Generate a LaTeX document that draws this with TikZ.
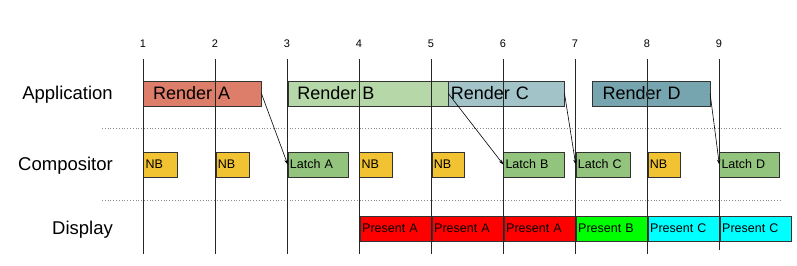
\documentclass[tikz,border=0pt]{standalone}
\usepackage{fontspec}
\setmainfont{Liberation Sans}
\usepackage{tikz}
\usetikzlibrary{arrows.meta}

\definecolor{redberry}{HTML}{DD7E6B}
\definecolor{lightgreen}{HTML}{B6D7A8}
\definecolor{lightcyan}{HTML}{A2C4C9}
\definecolor{darkcyan}{HTML}{76A5AF}
\definecolor{nbyellow}{HTML}{F1C232}
\definecolor{latchgreen}{HTML}{93C47D}
\definecolor{presentred}{HTML}{FF0000}
\definecolor{presentgreen}{HTML}{00FF00}
\definecolor{presentcyan}{HTML}{00FFFF}

\begin{document}
\begin{tikzpicture}[x=1pt, y=-1pt]
        % Styles for the three rows
        \tikzstyle{rowlabel} = [anchor=east, inner sep=0pt, font=\fontsize{18.5}{20}\selectfont]
        \tikzstyle{render} = [rectangle, draw=black!80, anchor=west, minimum height=25pt, inner ysep=0pt,
                              inner xsep=10pt, align=left, font=\fontsize{18}{20}\selectfont]
        \tikzstyle{comp} = [rectangle, draw=black!80, anchor=west, minimum height=24.5pt, inner ysep=0pt,
                            inner xsep=2pt, align=left, font=\fontsize{12.5}{14}\selectfont]
        \tikzstyle{present} = [rectangle, draw=black!80, anchor=west, minimum height=25pt, inner ysep=0pt,
                               inner xsep=2.5pt, text width=67pt, align=left, font=\fontsize{12.5}{14}\selectfont]
        \tikzstyle{arrow} = [black, line width=0.6pt, -{Stealth[length=5pt, width=3.5pt]}]
        \tikzstyle{vsync} = [black!85, line width=0.9pt]
        \tikzstyle{sep} = [black!45, dotted, line width=0.8pt]

        \useasboundingbox (0,0) rectangle (797,265);

        % Row labels
        \node (application) [rowlabel] at (113,95) {Application};
        \node (compositor) [rowlabel] at (113,166) {Compositor};
        \node (display) [rowlabel] at (113,230) {Display};

        % Separators
        \draw [sep] (102,128.3) -- (780,128.3);
        \draw [sep] (102,200.7) -- (780,200.7);

        % Application row
        \node (renderA) [render, fill=redberry, text width=98pt] at (143,93.5) {Render A};
        \node (renderB) [render, fill=lightgreen, text width=141pt, inner xsep=9.7pt] at (287.5,93.5) {Render B};
        \node (renderC) [render, fill=lightcyan, text width=111pt, inner xsep=2.4pt] at (448.3,93.5) {Render C};
        \node (renderD) [render, fill=darkcyan, text width=97.4pt] at (592.3,93.5) {Render D};

        % Compositor row
        \node (nb1) [comp, fill=nbyellow, text width=29.5pt] at (143.3,164.5) {NB};
        \node (nb2) [comp, fill=nbyellow, text width=29pt] at (215.7,164.5) {NB};
        \node (latchA) [comp, fill=latchgreen, text width=56pt] at (287.7,164.5) {Latch A};
        \node (nb4) [comp, fill=nbyellow, text width=28.7pt] at (359.3,164.5) {NB};
        \node (nb5) [comp, fill=nbyellow, text width=28.6pt] at (431.7,164.5) {NB};
        \node (latchB) [comp, fill=latchgreen, text width=56.4pt] at (503.3,164.5) {Latch B};
        \node (latchC) [comp, fill=latchgreen, text width=50pt] at (575.7,164.5) {Latch C};
        \node (nb8) [comp, fill=nbyellow, text width=28.6pt] at (647.7,164.5) {NB};
        \node (latchD) [comp, fill=latchgreen, text width=56pt] at (719.3,164.5) {Latch D};

        % Display row
        \node (present4) [present, fill=presentred] at (359.5,228.2) {Present A};
        \node (present5) [present, fill=presentred] at (431.5,228.2) {Present A};
        \node (present6) [present, fill=presentred] at (503.5,228.2) {Present A};
        \node (present7) [present, fill=presentgreen] at (575.5,228.2) {Present B};
        \node (present8) [present, fill=presentcyan] at (647.5,228.2) {Present C};
        \node (present9) [present, fill=presentcyan, text width=66.5pt] at (719.5,228.2) {Present C};

        % Vsync lines with their numbers
        \foreach \i in {1,...,9} {
            \node (tick\i) [font=\fontsize{11}{12}\selectfont, inner sep=0pt] at ({143+(\i-1)*72},44) {\i};
            \coordinate (top\i) at ({143+(\i-1)*72},59);
            \coordinate (bot\i) at ({143+(\i-1)*72},253.5);
        }
        \coordinate (bot9) at (719,250);
        \foreach \i in {1,...,9}
            \draw [vsync] (top\i) -- (bot\i);

        % Arrows
        \draw [arrow] (renderA.east) -- (latchA.west);
        \draw [arrow] (renderB.east) -- (latchB.west);
        \draw [arrow] (renderC.east) -- (latchC.west);
        \draw [arrow] (renderD.east) -- (latchD.west);
    \end{tikzpicture}
\end{document}
